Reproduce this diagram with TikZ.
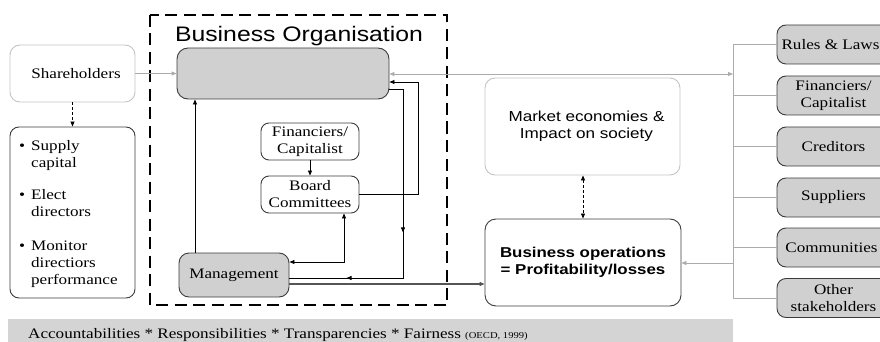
\documentclass[tikz,border=0pt]{standalone}
\usepackage{fontspec}
\setmainfont{Liberation Serif}[FakeStretch=1.18]
\setsansfont{Liberation Sans}[FakeStretch=1.18]
\usetikzlibrary{arrows.meta,calc,decorations.markings}
\definecolor{boxgray}{HTML}{D0D0D0}
\definecolor{bandgray}{HTML}{D4D4D4}
\definecolor{lightline}{HTML}{ABABAB}
\definecolor{lightborder}{HTML}{C4C4C4}
\definecolor{darkborder}{HTML}{3C3C3C}
\definecolor{midline}{HTML}{555555}
\begin{document}
\begin{tikzpicture}[x=1pt,y=-1pt,
  every node/.style={inner sep=0pt, font=\fontsize{14.5}{17}\selectfont},
  box/.style={draw=darkborder, line width=0.9pt, rounded corners=9pt, align=center},
  lightbox/.style={draw=lightborder, line width=0.9pt, rounded corners=10pt, fill=white, align=center},
  graybox/.style={box, fill=boxgray},
  stakebox/.style={graybox, minimum width=113pt, minimum height=39pt},
  tip/.style={-{Triangle[length=5pt,width=4pt]}},
  dtip/.style={{Triangle[length=5pt,width=4pt]}-{Triangle[length=5pt,width=4pt]}},
  conn/.style={draw=black, line width=0.8pt},
  lconn/.style={draw=lightline, line width=0.9pt},
  sansbig/.style={font=\sffamily\fontsize{21}{24}\selectfont},
  sanstext/.style={font=\sffamily\fontsize{14.5}{17}\selectfont},
  sansbold/.style={font=\sffamily\bfseries\fontsize{14.3}{17}\selectfont},
  orgframe/.style={draw=black, line width=2.6pt, dash pattern=on 12pt off 6.5pt},
  smalldash/.style={dash pattern=on 3pt off 2pt},
  midarrows/.style={postaction=decorate, decoration={markings,
      mark=at position 157pt with {\arrow{Triangle[length=5pt,width=4pt]}},
      mark=at position 259pt with {\arrow{Triangle[length=5pt,width=4pt]}}}}
]
\useasboundingbox (0,0) rectangle (880,342);
\clip (0,0) rectangle (880,342);

% bottom band
\path[fill=bandgray] (8,319) rectangle (733,345);
\node[anchor=base west] (band) at (28,338) {Accountabilities * Responsibilities * Transparencies * Fairness {\fontsize{9}{10}\selectfont (OECD, 1999)}};

% organisation frame
\draw[orgframe] (150,15) rectangle (447,305);
\node[sansbig, anchor=base] (title) at (299,42) {Business Organisation};

% left boxes
\node[lightbox, minimum width=125pt, minimum height=57pt] (sh) at (72.5,73.5) {\hspace{7pt}Shareholders};
\node[box, minimum width=125pt, minimum height=171pt] (bl) at (72.5,212.5) {};
\node[anchor=base west] (b1) at (19,150) {\begin{tabular}[t]{@{}l@{\hspace{6pt}}l@{}}\textbullet&Supply\\&capital\end{tabular}};
\node[anchor=base west] (b2) at (19,199) {\begin{tabular}[t]{@{}l@{\hspace{6pt}}l@{}}\textbullet&Elect\\&directors\end{tabular}};
\node[anchor=base west] (b3) at (19,250) {\begin{tabular}[t]{@{}l@{\hspace{6pt}}l@{}}\textbullet&Monitor\\&directiors\\&performance\end{tabular}};

% inner boxes
\node[graybox, rounded corners=11pt, minimum width=212pt, minimum height=51pt] (gb) at (283,73.5) {};
\node[box, rounded corners=8pt, minimum width=98pt, minimum height=37pt] (fc) at (310,141.5) {Financiers/\\Capitalist};
\node[box, rounded corners=8pt, minimum width=98pt, minimum height=37pt] (bc) at (310,194.5) {Board\\Committees};
\node[graybox, rounded corners=10pt, minimum width=110pt, minimum height=44pt] (mg) at (234,275) {Management};

% middle boxes
\node[lightbox, sanstext, minimum width=195pt, minimum height=97pt] (mk) at (582.5,126.5) {\hspace{8pt}Market economies \&\\\hspace{8pt}Impact on society};
\node[box, rounded corners=11pt, fill=white, sansbold, minimum width=196pt, minimum height=87pt] (bo) at (583,262.5) {Business operations\\= Profitability/losses};

% stakeholder boxes
\node[stakebox] (s1) at (833.5,44.5) {Rules \& Laws\hspace{6pt}};
\node[stakebox] (s2) at (833.5,95.5) {Financiers/\\Capitalist};
\node[stakebox] (s3) at (833.5,146.5) {Creditors};
\node[stakebox] (s4) at (833.5,197.5) {Suppliers};
\node[stakebox] (s5) at (833.5,247.5) {Communities\hspace{4pt}};
\node[stakebox] (s6) at (833.5,298) {Other\\stakeholders};

% bracket
\coordinate (bt) at (733,44.5);
\coordinate (bb) at (733,298);
\draw[lconn] (bt) -- (bb);
\foreach \s in {s1,s2,s3,s4,s5,s6} \draw[lconn] (733,0 |- \s.west) -- (\s.west);

% connectors
\draw[lconn, tip] (sh.east) -- (gb.west);
\draw[conn, tip, smalldash] (sh.south) -- (bl.north);
\draw[conn, tip] (195,0 |- mg.north) -- (195,0 |- gb.south);
\draw[conn, tip] (fc.south) -- (bc.north);
\draw[conn, dtip] (344,0 |- bc.south) -- (344,262) -- (mg.east |- 0,262);
\draw[conn, tip] (bc.east) -- (418,0 |- bc.east) -- (418,82) -- (gb.east |- 0,82);
\draw[conn, midarrows] (gb.east |- 0,89) -- (403,89) -- (403,278) -- (mg.east |- 0,278);
\draw[draw=midline, line width=1.1pt, tip] (mg.east |- 0,284) -- (bo.west |- 0,284);
\draw[lconn, dtip] (gb.east |- 0,74) -- (733,74);
\draw[lconn, tip] (733,263) -- (bo.east |- 0,263);
\draw[conn, dtip, smalldash] (583,0 |- mk.south) -- (583,0 |- bo.north);
\end{tikzpicture}
\end{document}
